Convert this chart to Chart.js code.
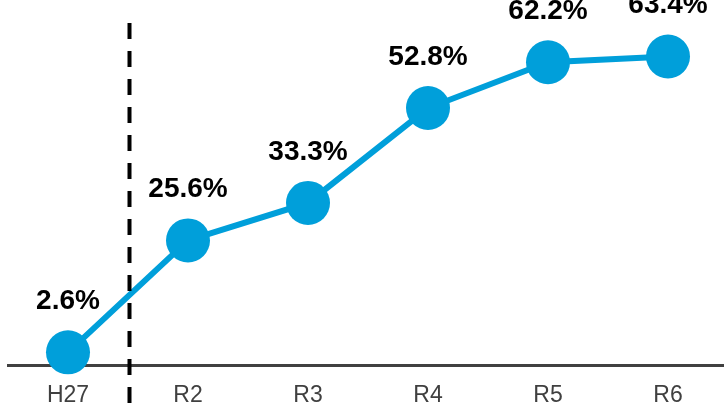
<!DOCTYPE html>
<html>
<head>
<meta charset="utf-8">
<script src="https://cdn.jsdelivr.net/npm/chart.js@4"></script>
<style>
  html, body { margin: 0; padding: 0; background: #fff; overflow: hidden; }
  #wrap { width: 732px; height: 403px; }
</style>
</head>
<body>
<div id="wrap"><canvas id="rateChart"></canvas></div>
<script>
const years = ['H27', 'R2', 'R3', 'R4', 'R5', 'R6'];
const rates = [2.6, 25.6, 33.3, 52.8, 62.2, 63.4];
const rateLabels = ['2.6%', '25.6%', '33.3%', '52.8%', '62.2%', '63.4%'];

const lineBlue = '#009fda';

// value labels above points + dashed divider between H27 and R2
const extras = {
    id: 'extras',
    afterDatasetsDraw(chart) {
        const ctx = chart.ctx;
        const x = chart.scales.x;
        const y = chart.scales.y;
        ctx.save();
        ctx.font = 'bold 28px "Liberation Sans", Arial, sans-serif';
        ctx.fillStyle = '#000';
        ctx.textAlign = 'center';
        ctx.textBaseline = 'middle';
        rates.forEach((v, i) => {
            ctx.fillText(rateLabels[i], x.getPixelForValue(i), y.getPixelForValue(v) - 51);
        });

        const divX = (x.getPixelForValue(0) + x.getPixelForValue(1)) / 2 + 1.5;
        ctx.strokeStyle = '#000';
        ctx.lineWidth = 4;
        ctx.setLineDash([16, 12]);
        ctx.beginPath();
        ctx.moveTo(divX, 23);
        ctx.lineTo(divX, chart.height);
        ctx.stroke();
        ctx.restore();
    }
};

const ctx = document.getElementById('rateChart').getContext('2d');
new Chart(ctx, {
    type: 'line',
    data: {
        labels: years,
        datasets: [{
            data: rates,
            borderColor: lineBlue,
            backgroundColor: lineBlue,
            borderWidth: 6,
            pointRadius: 22,
            pointHoverRadius: 22,
            pointBorderWidth: 0,
            tension: 0,
            clip: false
        }]
    },
    options: {
        responsive: true,
        maintainAspectRatio: false,
        animation: false,
        layout: { autoPadding: false, padding: { left: 8, right: 4, top: 0, bottom: 0 } },
        plugins: {
            legend: { display: false },
            tooltip: { enabled: false }
        },
        scales: {
            x: {
                offset: true,
                grid: { display: false, drawTicks: false },
                border: { display: true, color: '#404040', width: 3 },
                ticks: {
                    color: '#404040',
                    padding: 17,
                    maxRotation: 0,
                    font: { family: '"Liberation Sans", Arial, sans-serif', size: 23 }
                },
                afterFit(scale) { scale.height = 38; }
            },
            y: {
                display: false,
                min: 0,
                max: 75
            }
        }
    },
    plugins: [extras]
});
</script>
</body>
</html>
